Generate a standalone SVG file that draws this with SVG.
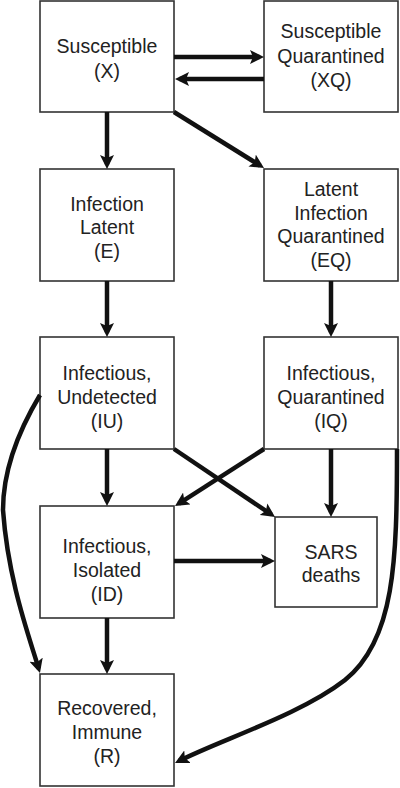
<svg xmlns="http://www.w3.org/2000/svg" width="400" height="788" viewBox="0 0 400 788">
<style>
.box{fill:#fff;stroke:#333;stroke-width:1.6}
.lbl{font-family:"Liberation Sans",Arial,sans-serif;font-size:19.5px;fill:#222;text-anchor:middle}
.edge{fill:none;stroke:#111;stroke-width:4.5;marker-end:url(#ah)}
</style>
<defs>
<marker id="ah" markerUnits="userSpaceOnUse" markerWidth="15" markerHeight="14" refX="9.5" refY="7" orient="auto">
<path d="M0,0 L14,7 L0,14 L3,7 z" fill="#111"/>
</marker>
</defs>
<rect width="400" height="788" fill="#fff"/>
<g id="X"><rect class="box" x="40" y="1" width="134" height="111"/>
<text class="lbl" x="107" y="53">Susceptible</text><text class="lbl" x="107" y="78">(X)</text></g>
<g id="XQ"><rect class="box" x="264" y="1" width="134" height="111"/>
<text class="lbl" x="331" y="38">Susceptible</text><text class="lbl" x="331" y="63">Quarantined</text><text class="lbl" x="331" y="87">(XQ)</text></g>
<g id="E"><rect class="box" x="40" y="169" width="134" height="112"/>
<text class="lbl" x="107" y="211">Infection</text><text class="lbl" x="107" y="234">Latent</text><text class="lbl" x="107" y="258">(E)</text></g>
<g id="EQ"><rect class="box" x="264" y="169" width="134" height="112"/>
<text class="lbl" x="331" y="196">Latent</text><text class="lbl" x="331" y="220">Infection</text><text class="lbl" x="331" y="243">Quarantined</text><text class="lbl" x="331" y="267">(EQ)</text></g>
<g id="IU"><rect class="box" x="40" y="337" width="134" height="112"/>
<text class="lbl" x="107" y="380">Infectious,</text><text class="lbl" x="107" y="404">Undetected</text><text class="lbl" x="107" y="428">(IU)</text></g>
<g id="IQ"><rect class="box" x="264" y="337" width="134" height="112"/>
<text class="lbl" x="331" y="380">Infectious,</text><text class="lbl" x="331" y="404">Quarantined</text><text class="lbl" x="331" y="428">(IQ)</text></g>
<g id="ID"><rect class="box" x="40" y="506" width="134" height="112"/>
<text class="lbl" x="107" y="553">Infectious,</text><text class="lbl" x="107" y="577">Isolated</text><text class="lbl" x="107" y="601">(ID)</text></g>
<g id="SARS"><rect class="box" x="275" y="517" width="102" height="90"/>
<text class="lbl" x="331" y="559">SARS</text><text class="lbl" x="331" y="582">deaths</text></g>
<g id="R"><rect class="box" x="40" y="674" width="134" height="112"/>
<text class="lbl" x="107" y="715">Recovered,</text><text class="lbl" x="107" y="739">Immune</text><text class="lbl" x="107" y="763">(R)</text></g>
<g id="connectors">
<path class="edge" d="M174 57 H259.5"/>
<path class="edge" d="M264 79 H179.5"/>
<path class="edge" d="M107 112 V164.5"/>
<path class="edge" d="M174 112 L260.2 165.6"/>
<path class="edge" d="M107 281 V332.5"/>
<path class="edge" d="M331 281 V332.5"/>
<path class="edge" d="M107 449 V501.5"/>
<path class="edge" d="M174 449 L271.3 514.5"/>
<path class="edge" d="M264 449 L178.8 503.6"/>
<path class="edge" d="M331 449 V512.5"/>
<path class="edge" d="M174 561 H270.5"/>
<path class="edge" d="M107 618 V669.5"/>
<path class="edge" d="M40 395 C22 425 3 465 3 510 C8 580 29 636 38.7 668.7"/>
<path class="edge" d="M397 449 C397 560 395 640 345 680 C300 715 220 740 179 761"/>
</g>
</svg>
